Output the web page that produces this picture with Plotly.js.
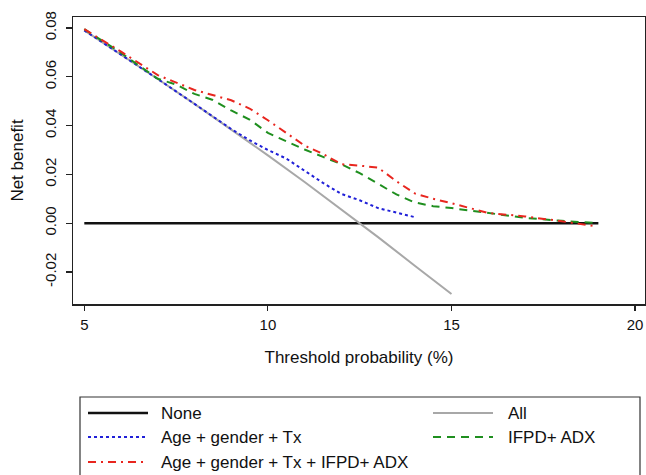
<!DOCTYPE html>
<html>
<head>
<meta charset="utf-8">
<script src="https://cdn.plot.ly/plotly-3.0.1.min.js"></script>
<style>html,body{margin:0;padding:0;background:#fff}#chart{width:646px;height:475px}</style>
</head>
<body>
<div id="chart"></div>
<script>
// ---- data ----
var seriesNames = ["None", "All", "Age + gender + Tx", "IFPD+ ADX", "Age + gender + Tx + IFPD+ ADX"];

var noneX = [5, 19];
var noneY = [0, 0];

var allX = [5, 6, 7, 8, 9, 10, 11, 12, 13, 14, 15];
var allY = [0.0790, 0.0692, 0.0591, 0.0489, 0.0385, 0.0278, 0.0169, 0.0057, -0.0057, -0.0174, -0.0290];

var baseX = [5, 6, 7, 8, 9, 9.5, 10, 10.5, 11, 11.5, 12, 12.5, 13, 13.5, 14];
var baseY = [0.0790, 0.0692, 0.0591, 0.0489, 0.0386, 0.0340, 0.0300, 0.0265, 0.0215, 0.0165, 0.0120, 0.0094, 0.0062, 0.0042, 0.0025];

var ifpdX = [5, 6, 7, 7.5, 8, 8.5, 9, 9.5, 10, 10.5, 11, 11.5, 12, 12.5, 13, 13.5, 14, 14.5, 15, 16, 17, 18, 19];
var ifpdY = [0.0795, 0.0698, 0.0592, 0.0568, 0.0530, 0.0505, 0.0462, 0.0425, 0.0370, 0.0335, 0.0302, 0.0272, 0.0242, 0.0205, 0.0162, 0.0118, 0.0085, 0.0070, 0.0062, 0.0042, 0.0022, 0.0010, 0.0000];

var fullX = [5, 6, 7, 8, 9, 9.5, 10, 10.5, 11, 11.5, 12, 12.5, 13, 13.5, 14, 14.5, 15, 16, 17, 18, 18.9];
var fullY = [0.0795, 0.0703, 0.0607, 0.0546, 0.0504, 0.0470, 0.0422, 0.0370, 0.0318, 0.0284, 0.0242, 0.0236, 0.0228, 0.0172, 0.0122, 0.0100, 0.0082, 0.0042, 0.0028, 0.0008, -0.0012];

var xTickVals = [5, 10, 15, 20];
var xTickText = ["5", "10", "15", "20"];
var yTickVals = [-0.02, 0, 0.02, 0.04, 0.06, 0.08];
var yTickText = ["-0.02", "0.00", "0.02", "0.04", "0.06", "0.08"];

// ---- styles ----
var styles = [
  {color: "#111111", width: 2.5, dash: "solid"},
  {color: "#a8a8a8", width: 2, dash: "solid"},
  {color: "#2020d8", width: 2, dash: "3px,3px"},
  {color: "#1f8f1f", width: 2, dash: "8px,6px"},
  {color: "#e8261f", width: 2, dash: "8px,5px,2px,5px"}
];
var xs = [noneX, allX, baseX, ifpdX, fullX];
var ys = [noneY, allY, baseY, ifpdY, fullY];

var traces = xs.map(function (x, i) {
  return {
    type: "scatter", mode: "lines", x: x, y: ys[i], name: seriesNames[i],
    line: {color: styles[i].color, width: styles[i].width, dash: styles[i].dash},
    showlegend: false, hoverinfo: "skip"
  };
});

// ---- geometry ----
var W = 646, H = 475;
var M = {l: 73, r: 1, t: 17, b: 171};
var pw = W - M.l - M.r, ph = H - M.t - M.b;
function px(x) { return (x - M.l) / pw; }
function py(y) { return (H - M.b - y) / ph; }

var fam = "Liberation Sans, Arial, sans-serif";
var tickFont = {family: fam, size: 15, color: "#111"};
var labFont = {family: fam, size: 17, color: "#111"};

// legend drawn by hand to match the boxed two-column layout
var shapes = [{
  type: "rect", xref: "paper", yref: "paper",
  x0: px(80), x1: px(640), y0: py(478), y1: py(397),
  line: {color: "#333", width: 1.2}, fillcolor: "rgba(0,0,0,0)"
}];
var annotations = [];
var cols = [{l0: 88, l1: 148, t: 159}, {l0: 433, l1: 493, t: 506}];
var rows = [413, 437, 462];
seriesNames.forEach(function (name, i) {
  var c = cols[i % 2], r = rows[Math.floor(i / 2)];
  shapes.push({
    type: "line", xref: "paper", yref: "paper",
    x0: px(c.l0), x1: px(c.l1), y0: py(r), y1: py(r),
    line: {color: styles[i].color, width: styles[i].width, dash: styles[i].dash}
  });
  annotations.push({
    xref: "paper", yref: "paper", x: px(c.t), y: py(r),
    xanchor: "left", yanchor: "middle", showarrow: false,
    text: name, font: labFont
  });
});

var layout = {
  width: W, height: H,
  margin: M,
  paper_bgcolor: "#fff", plot_bgcolor: "#fff",
  font: tickFont,
  showlegend: false,
  xaxis: {
    range: [4.692, 20.27], tickvals: xTickVals, ticktext: xTickText,
    showgrid: false, zeroline: false,
    showline: true, mirror: true, linecolor: "#222", linewidth: 1.5,
    ticks: "outside", ticklen: 5, tickwidth: 1.2, tickcolor: "#222",
    tickfont: tickFont, ticklabelstandoff: 1,
    title: {text: "Threshold probability (%)", font: labFont, standoff: 19}
  },
  yaxis: {
    range: [-0.0331, 0.0845], tickvals: yTickVals, ticktext: yTickText,
    showgrid: false, zeroline: false,
    showline: true, mirror: true, linecolor: "#222", linewidth: 1.5,
    ticks: "outside", ticklen: 6, tickwidth: 1.2, tickcolor: "#222",
    tickangle: -90, tickfont: tickFont, ticklabelstandoff: 4,
    title: {text: "Net benefit", font: labFont, standoff: 13}
  },
  shapes: shapes,
  annotations: annotations
};

Plotly.newPlot("chart", traces, layout, {displayModeBar: false, staticPlot: true});
</script>
</body>
</html>
